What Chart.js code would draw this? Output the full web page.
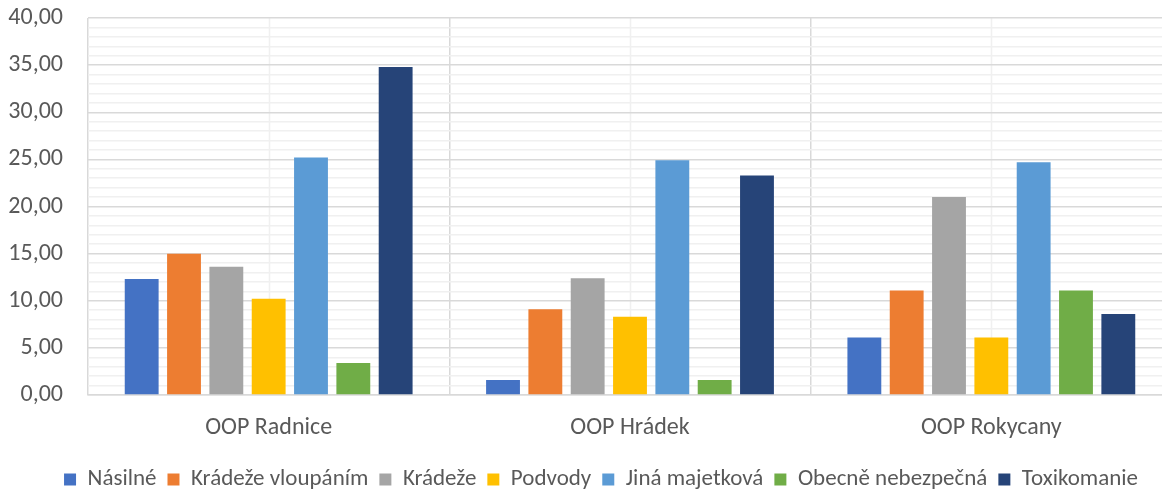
<!DOCTYPE html>
<html>
<head>
<meta charset="utf-8">
<script src="https://cdn.jsdelivr.net/npm/chart.js@4.4.0/dist/chart.umd.min.js"></script>
<style>
    html, body { margin: 0; padding: 0; background: #fff; overflow: hidden; }
    .wrap { width: 1162px; height: 490px; overflow: hidden; position: relative; }
    canvas { display: block; }
</style>
</head>
<body>
<div class="wrap">
    <canvas id="chart" width="1202" height="501"></canvas>
</div>
<script>
    // --- DATA ---
    const categories = ['OOP Radnice', 'OOP Hrádek', 'OOP Rokycany'];
    const seriesNames = ['Násilné', 'Krádeže vloupáním', 'Krádeže', 'Podvody', 'Jiná majetková', 'Obecně nebezpečná', 'Toxikomanie'];
    const nasilne = [12.3, 1.6, 6.1];
    const kradezeVloupanim = [15.0, 9.1, 11.1];
    const kradeze = [13.6, 12.4, 21.0];
    const podvody = [10.2, 8.3, 6.1];
    const jinaMajetkova = [25.2, 24.9, 24.7];
    const obecneNebezpecna = [3.4, 1.6, 11.1];
    const toxikomanie = [34.8, 23.3, 8.6];
    const yMin = 0, yMax = 40, yMajorStep = 5;

    const seriesValues = [nasilne, kradezeVloupanim, kradeze, podvody, jinaMajetkova, obecneNebezpecna, toxikomanie];
    const colors = ['#4472C4', '#ED7D31', '#A5A5A5', '#FFC000', '#5B9BD5', '#70AD47', '#264478'];

    const fontFamily = 'Carlito, Calibri, Lato, sans-serif';
    const textColor = '#595959';
    const majorGrid = '#d9d9d9';
    const minorGrid = '#f0f0f0';

    // white background + minor vertical lines at category centres (under the grid)
    const minorVertical = {
        id: 'minorVertical',
        beforeDraw(chart) {
            const {ctx, chartArea, scales} = chart;
            ctx.save();
            ctx.fillStyle = '#ffffff';
            ctx.fillRect(0, 0, chart.width, chart.height);
            ctx.strokeStyle = minorGrid;
            ctx.lineWidth = 1.5;
            categories.forEach((c, i) => {
                const x = Math.round(scales.x.getPixelForValue(i)) + 0.5;
                ctx.beginPath();
                ctx.moveTo(x, chartArea.top);
                ctx.lineTo(x, chartArea.bottom);
                ctx.stroke();
            });
            ctx.restore();
        }
    };

    new Chart(document.getElementById('chart'), {
        type: 'bar',
        data: {
            labels: categories,
            datasets: seriesNames.map((name, i) => ({
                label: name,
                data: seriesValues[i],
                backgroundColor: colors[i],
                borderWidth: 0,
                categoryPercentage: 0.82,
                barPercentage: 0.8
            }))
        },
        options: {
            responsive: false,
            animation: false,
            devicePixelRatio: 1,
            layout: { padding: { left: 0, right: 0, top: 18, bottom: 0 } },
            scales: {
                x: {
                    grid: { display: true, offset: true, color: majorGrid, lineWidth: 1.5, drawTicks: false },
                    border: { display: true, color: majorGrid, width: 1.5 },
                    ticks: { color: textColor, font: { family: fontFamily, size: 24 }, padding: 19 },
                    afterFit(scale) { scale.height = 62; }
                },
                y: {
                    min: yMin,
                    max: yMax,
                    grid: {
                        color: ctx => (ctx.tick && ctx.tick.value % yMajorStep === 0) ? majorGrid : minorGrid,
                        lineWidth: 1.5,
                        drawTicks: false
                    },
                    border: { display: false },
                    ticks: {
                        stepSize: 1,
                        autoSkip: false,
                        padding: 25,
                        color: textColor,
                        font: { family: fontFamily, size: 24 },
                        callback: v => v % yMajorStep === 0 ? v.toFixed(2).replace('.', ',') : ''
                    },
                    afterFit(scale) {
                        scale.width = 88;
                        scale.paddingTop = 0;
                        scale.paddingBottom = 0;
                    }
                },
                // empty right-hand axis: keeps a margin right of the plot so the legend stays centred on the canvas
                yRight: {
                    position: 'right',
                    min: yMin,
                    max: yMax,
                    grid: { display: false },
                    border: { display: false },
                    ticks: { display: false },
                    afterFit(scale) {
                        scale.width = 30;
                        scale.paddingTop = 0;
                        scale.paddingBottom = 0;
                    }
                }
            },
            plugins: {
                legend: {
                    position: 'bottom',
                    labels: {
                        boxWidth: 12,
                        boxHeight: 12,
                        padding: 11,
                        color: textColor,
                        font: { family: fontFamily, size: 23 }
                    }
                },
                tooltip: { enabled: false }
            }
        },
        plugins: [minorVertical]
    });
</script>
</body>
</html>
